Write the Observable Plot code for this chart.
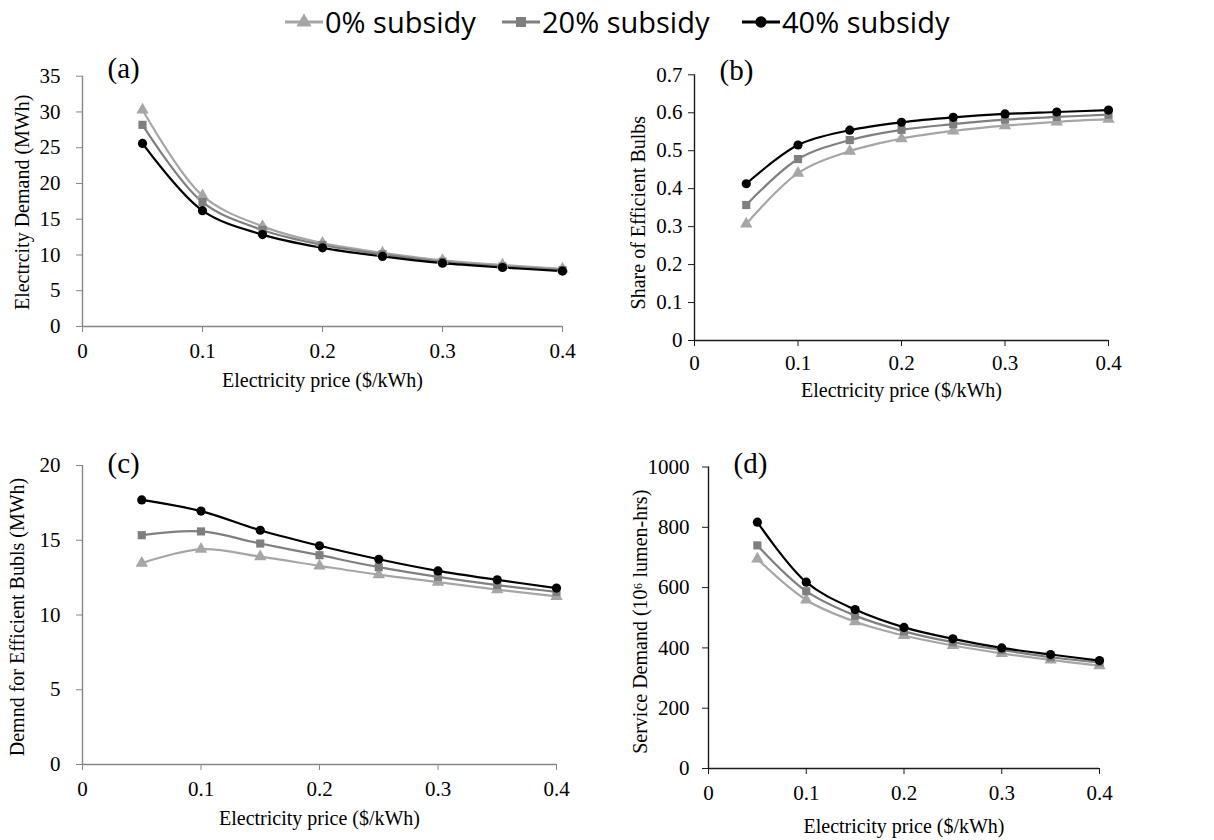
<!DOCTYPE html>
<html>
<head>
<meta charset="utf-8">
<script src="https://cdn.jsdelivr.net/npm/d3@7"></script>
<script src="https://cdn.jsdelivr.net/npm/@observablehq/plot@0.6"></script>
<style>
  body { margin: 0; background: #fff; }
  #root { position: relative; width: 1214px; height: 840px; overflow: hidden; background: #fff; }
  #root svg { position: absolute; }
</style>
</head>
<body>
<div id="root"></div>
<script>
// ---------- data ----------
const series = ["0% subsidy", "20% subsidy", "40% subsidy"];
const seriesColors = ["#a6a6a6", "#7f7f7f", "#000000"];
const seriesSymbols = ["triangle", "square", "circle"];

const price = [0.05, 0.1, 0.15, 0.2, 0.25, 0.3, 0.35, 0.4];
const priceTicks = [0, 0.1, 0.2, 0.3, 0.4];

// (a) Electricity demand (MWh)
const elec0  = [30.3, 18.3, 14.0, 11.65, 10.3, 9.25, 8.6, 8.05];
const elec20 = [28.2, 17.4, 13.5, 11.4, 10.1, 9.05, 8.4, 7.9];
const elec40 = [25.6, 16.2, 12.85, 11.0, 9.8, 8.85, 8.25, 7.75];
const elecTicks = [0, 5, 10, 15, 20, 25, 30, 35];

// (b) Share of efficient bulbs
const share0  = [0.307, 0.441, 0.499, 0.532, 0.552, 0.566, 0.576, 0.583];
const share20 = [0.357, 0.478, 0.528, 0.555, 0.570, 0.582, 0.589, 0.595];
const share40 = [0.413, 0.515, 0.554, 0.575, 0.588, 0.597, 0.602, 0.607];
const shareTicks = [0, 0.1, 0.2, 0.3, 0.4, 0.5, 0.6, 0.7];

// (c) Demand for efficient bulbs (MWh)
const eff0  = [13.47, 14.4, 13.9, 13.29, 12.7, 12.2, 11.7, 11.25];
const eff20 = [15.34, 15.59, 14.78, 14.0, 13.2, 12.55, 12.0, 11.55];
const eff40 = [17.7, 16.95, 15.67, 14.63, 13.73, 12.95, 12.35, 11.8];
const effTicks = [0, 5, 10, 15, 20];

// (d) Service demand (10^6 lumen-hrs)
const serv0  = [695, 559, 487, 441, 408, 382, 360, 341];
const serv20 = [740, 588, 507, 455, 419, 393, 369, 352];
const serv40 = [817, 618, 527, 468, 430, 400, 378, 358];
const servTicks = [0, 200, 400, 600, 800, 1000];

const xTitle = "Electricity price ($/kWh)";

function rows(a0, a20, a40) {
  const out = [];
  [a0, a20, a40].forEach((arr, i) => arr.forEach((v, j) => out.push({price: price[j], value: v, series: series[i]})));
  return out;
}

const root = document.getElementById("root");
const serif = "'Liberation Serif', 'Times New Roman', serif";

function panel(cfg) {
  const data = rows(...cfg.values);
  const yMax = cfg.yTicks[cfg.yTicks.length - 1];
  const fmt = d => String(d);
  const svg = Plot.plot({
    width: cfg.width, height: cfg.height,
    marginLeft: cfg.ml, marginRight: cfg.mr, marginTop: cfg.mt, marginBottom: cfg.mb,
    x: {domain: [0, 0.4]},
    y: {domain: [0, yMax]},
    color: {domain: series, range: seriesColors},
    symbol: {domain: series, range: seriesSymbols},
    style: {fontFamily: serif, fontSize: "21px", color: "black", background: "transparent", overflow: "visible"},
    marks: [
      Plot.axisX({ticks: priceTicks, tickFormat: fmt, tickSize: 6, tickPadding: cfg.xPad, stroke: cfg.axisColor, fill: "black", fontSize: cfg.tickFont, label: null}),
      Plot.axisY({ticks: cfg.yTicks, tickFormat: fmt, tickSize: 6, tickPadding: cfg.yPad, stroke: cfg.axisColor, fill: "black", fontSize: cfg.tickFont, label: null}),
      Plot.ruleY([0], {stroke: cfg.axisColor, strokeWidth: 1.4}),
      Plot.ruleX([0], {stroke: cfg.axisColor, strokeWidth: 1.4}),
      Plot.line(data, {x: "price", y: "value", z: "series", stroke: "series", curve: "catmull-rom", strokeWidth: 2.2}),
      Plot.dot(data, {x: "price", y: "value", symbol: "series", fill: "series", r: 4.6}),
      Plot.text([xTitle], {frameAnchor: "bottom", textAnchor: "middle", dy: cfg.xdy, fontSize: 20, lineAnchor: "middle"}),
      Plot.text([cfg.yTitle], {frameAnchor: "left", textAnchor: "middle", rotate: -90, dx: cfg.ydx, dy: cfg.ydy, fontSize: 20, lineAnchor: "middle"}),
      Plot.text([cfg.letter], {frameAnchor: "top-left", textAnchor: "start", lineAnchor: "middle", dx: 25, dy: cfg.ldy, fontSize: 29})
    ]
  });
  svg.style.left = cfg.left + "px";
  svg.style.top = cfg.top + "px";
  root.appendChild(svg);
}

panel({left: 0, top: 40, width: 600, height: 370, ml: 82, mr: 38, mt: 35.7, mb: 84,
  values: [elec0, elec20, elec40], yTicks: elecTicks, axisColor: "#868686", tickFont: 21, xPad: 11, yPad: 16,
  yTitle: "Electrcity Demand (MWh)", ydx: -60, ydy: 1, xdy: 54, letter: "(a)", ldy: -7});

panel({left: 600, top: 40, width: 614, height: 370, ml: 94, mr: 106, mt: 34.3, mb: 70,
  values: [share0, share20, share40], yTicks: shareTicks, axisColor: "#1a1a1a", tickFont: 21, xPad: 9, yPad: 6,
  yTitle: "Share of Efficient Bulbs", ydx: -56, ydy: 5, xdy: 50, letter: "(b)", ldy: -4});

panel({left: 0, top: 420, width: 600, height: 420, ml: 82, mr: 44, mt: 45, mb: 76,
  values: [eff0, eff20, eff40], yTicks: effTicks, axisColor: "#868686", tickFont: 21, xPad: 11, yPad: 16,
  yTitle: "Demnd for Efficient Bubls (MWh)", ydx: -65, ydy: 2, xdy: 54, letter: "(c)", ldy: -2});

panel({left: 600, top: 420, width: 614, height: 420, ml: 108, mr: 115, mt: 46.5, mb: 72,
  values: [serv0, serv20, serv40], yTicks: servTicks, axisColor: "#1a1a1a", tickFont: 21, xPad: 11, yPad: 13,
  yTitle: "Service Demand (10\u2076 lumen-hrs)", ydx: -68, ydy: 4, xdy: 58, letter: "(d)", ldy: -3});

// ---------- legend ----------
const legendLineX = [285, 502, 742];
const legendTextX = [325, 542, 782];
const leg = d3.create("svg").attr("width", 1214).attr("height", 46)
  .style("left", "0px").style("top", "0px");
series.forEach((s, i) => {
  const g = leg.append("g");
  const x0 = legendLineX[i], x1 = legendTextX[i] - 2, cy = 22;
  g.append("line").attr("x1", x0).attr("x2", x1).attr("y1", cy).attr("y2", cy)
    .attr("stroke", seriesColors[i]).attr("stroke-width", 3);
  const sym = d3.symbol().type([d3.symbolTriangle, d3.symbolSquare, d3.symbolCircle][i]).size(100)();
  g.append("path").attr("d", sym).attr("transform", `translate(${(x0 + x1) / 2},${cy})`).attr("fill", seriesColors[i]);
  g.append("text").attr("x", legendTextX[i]).attr("y", 33).text(s)
    .attr("font-family", "'Open Sans', sans-serif").attr("font-size", 29).attr("fill", "#000");
});
root.appendChild(leg.node());
</script>
</body>
</html>
